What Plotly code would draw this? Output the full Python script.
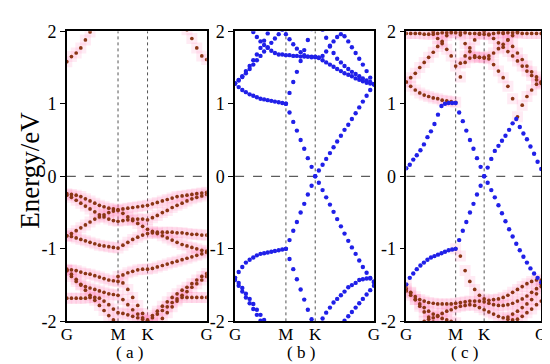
import plotly.graph_objects as go

N = None

# ---------------- k-path sample points (fraction of G-M-K-G path) ----------------
K_FINE = [0.000, 0.026, 0.052, 0.078, 0.105, 0.131, 0.157, 0.183, 0.209, 0.235,
          0.261, 0.287, 0.314, 0.340, 0.366, 0.392, 0.419, 0.445, 0.472, 0.498,
          0.524, 0.551, 0.577, 0.603, 0.630, 0.656, 0.683, 0.709, 0.735, 0.762,
          0.788, 0.815, 0.841, 0.868, 0.894, 0.920, 0.947, 0.973, 1.000]
K_COARSE = [0.000, 0.033, 0.067, 0.100, 0.133, 0.166, 0.200, 0.233, 0.266, 0.300,
            0.333, 0.366, 0.401, 0.436, 0.471, 0.507, 0.542, 0.577, 0.612, 0.647,
            0.683, 0.718, 0.753, 0.788, 0.824, 0.859, 0.894, 0.929, 0.965, 1.000]
K_TICKS = [0.0, 0.366, 0.577, 1.0]
K_LABELS = ["G", "M", "K", "G"]
E_TICKS = [-2, -1, 0, 1, 2]
E_LABELS = ["-2", "-1", "0", "1", "2"]
CAPTIONS = ["( a )", "( b )", "( c )"]
Y_TITLE = "Energy/eV"

# ---------------- panel (a): red bands, coarse grid ----------------
A_TOP_L = [1.58, 1.65, 1.70, 1.77, 1.88, 1.99, 2.10] + [N] * 23
A_TOP_R = [N] * 24 + [2.12, 2.02, 1.90, 1.77, 1.66, 1.61]
A_V1 = [-0.24, -0.25, -0.26, -0.28, -0.31, -0.34, -0.37, -0.40, -0.42, -0.44, -0.45, -0.46,
        -0.45, -0.44, -0.43, -0.42, -0.41, -0.40,
        -0.38, -0.36, -0.34, -0.32, -0.30, -0.28, -0.27, -0.26, -0.25, -0.24, -0.23, -0.22]
A_V2 = [-0.26, -0.29, -0.33, -0.37, -0.41, -0.45, -0.49, -0.53, -0.56, -0.59, -0.61, -0.62,
        -0.61, -0.60, -0.59, -0.59, -0.59, -0.60,
        -0.57, -0.54, -0.50, -0.47, -0.43, -0.40, -0.37, -0.34, -0.31, -0.29, -0.27, -0.25]
A_V3 = [-0.82, -0.79, -0.75, -0.71, -0.67, -0.63, -0.59, -0.56, -0.53, -0.50, -0.48, -0.47,
        -0.51, -0.56, -0.61, -0.65, -0.69, -0.73,
        -0.76, -0.79, -0.82, -0.85, -0.88, -0.91, -0.94, -0.96, -0.98, -1.00, -1.02, -1.03]
A_V4 = [-0.82, -0.83, -0.85, -0.87, -0.89, -0.91, -0.93, -0.95, -0.96, -0.97, -0.98, -0.99,
        -0.95, -0.91, -0.87, -0.84, -0.81, -0.79,
        -0.78, -0.77, -0.77, -0.77, -0.77, -0.78, -0.78, -0.79, -0.80, -0.80, -0.81, -0.81]
A_V5 = [-1.28, -1.29, -1.30, -1.32, -1.34, -1.35, -1.37, -1.39, -1.41, -1.43, -1.44, -1.45,
        -1.47, -1.56, -1.67, -1.78, -1.89, -1.98,
        -1.92, -1.86, -1.79, -1.73, -1.67, -1.62, -1.57, -1.53, -1.48, -1.43, -1.38, -1.34]
A_V6 = [-1.30, -1.35, -1.42, -1.49, -1.57, -1.64, -1.71, -1.78, -1.85, -1.92, -1.98, -2.04] + [N] * 18
A_V7 = [-1.68, -1.68, -1.68, -1.68, -1.68, -1.67, -1.67, -1.68, -1.72, -1.77, -1.83, -1.88,
        -1.89, -1.91, -1.93, -1.95, -1.97, -1.99,
        -1.95, -1.90, -1.85, -1.80, -1.74, -1.69, -1.67, -1.67, -1.67, -1.67, -1.67, -1.67]
A_V8 = [-1.30, -1.38, -1.45, -1.50, -1.52, -1.54, -1.56, -1.58, -1.60, -1.62, -1.63, -1.64,
        -1.70, -1.77, -1.84, -1.90, -1.95, -1.99,
        -2.03, -2.02, -1.96, -1.88, -1.80, -1.72, -1.64, -1.59, -1.53, -1.48, -1.43, -1.38]
A_V10 = [N] * 11 + [-1.38, -1.36, -1.33, -1.31, -1.29, -1.28, -1.28,
                    -1.27, -1.25, -1.23, -1.21, -1.19, -1.17, -1.15, -1.13, -1.11, -1.09, -1.07, -1.05]

# ---------------- panel (b): blue bands, fine grid ----------------
B1 = [1.28, 1.23, 1.19, 1.16, 1.13, 1.11, 1.09, 1.07, 1.06, 1.05, 1.04, 1.03, 1.02, 1.01, 1.00,
      0.88, 0.75, 0.63, 0.50, 0.38, 0.25, 0.13, 0.00,
      0.08, 0.16, 0.24, 0.32, 0.40, 0.48, 0.56, 0.64, 0.71, 0.79, 0.87, 0.95, 1.03, 1.11, 1.19, 1.27]
B2 = [-1.40, -1.32, -1.25, -1.19, -1.15, -1.12, -1.09, -1.07, -1.06, -1.05, -1.04, -1.03, -1.02, -1.01, -1.00,
      -0.88, -0.75, -0.63, -0.50, -0.38, -0.25, -0.13, 0.00,
      -0.09, -0.19, -0.29, -0.39, -0.49, -0.59, -0.69, -0.79, -0.89, -0.98, -1.07, -1.16, -1.25, -1.33, -1.40, -1.46]
B3 = [N] * 14 + [-1.00, -1.14, -1.28, -1.42, -1.56, -1.70, -1.84, -1.97, -2.10] + [N] * 16
B4 = [N] * 14 + [1.00, 1.15, 1.30, 1.44, 1.59, 1.74, 1.88, 2.03] + [N] * 17
B5 = [-1.40, -1.47, -1.54, -1.62, -1.69, -1.76, -1.84, -1.91, -1.98, -2.05] + [N] * 29
B6 = [-1.43, -1.51, -1.59, -1.67, -1.75, -1.83, -1.91, -1.99, -2.07] + [N] * 30
B7 = [N] * 23 + [-2.04, -1.96, -1.88, -1.81, -1.74, -1.69, -1.64, -1.59, -1.53, -1.50,
                 -1.47, -1.43, -1.42, -1.41, -1.41, -1.45]
B8 = [N] * 30 + [-1.99, -1.93, -1.87, -1.81, -1.75, -1.69, -1.63, -1.57, -1.51]
B9 = [1.28, 1.33, 1.38, 1.45, 1.52, 1.60, 1.68, 1.77, 1.87, 1.97, 2.07] + [N] * 28
B10 = [1.28, 1.32, 1.37, 1.42, 1.48, 1.54, 1.60, 1.66, 1.72, 1.78, 1.84, 1.90, 1.96, 2.02] + [N] * 25
B11 = [N] * 5 + [1.99, 1.92, 1.86, 1.81, 1.77, 1.73, 1.70, 1.68, 1.68,
                 1.67, 1.67, 1.66, 1.66, 1.65, 1.65, 1.65, 1.65, 1.65,
                 1.63, 1.60, 1.57, 1.54, 1.51, 1.48, 1.45, 1.42, 1.40, 1.38, 1.35, 1.33, 1.31, 1.29, 1.28, 1.27]
B12 = [N] * 13 + [2.05, 1.96, 1.89, 1.82, 1.76, 1.71, 1.67, 1.65, 1.64, 1.64,
                  1.64, 1.66, 1.72, 1.79, 1.86, 1.92, 1.96, 1.93, 1.86, 1.78, 1.70, 1.62, 1.54, 1.45, 1.36, 1.27]
B13 = [N] * 24 + [2.02, 1.91, 1.80, 1.70, 1.62, 1.57, 1.52, 1.48, 1.44, 1.41, 1.38, 1.35, 1.32, 1.30, 1.27]

# ---------------- panel (c): blue bands (fine grid) ----------------
C_B1 = [0.11, 0.16, 0.23, 0.29, 0.36, 0.44, 0.54, 0.62, 0.72, 0.85, 0.97, 1.00, 1.01, 1.01, 1.01,
        0.88, 0.76, 0.63, 0.50, 0.38, 0.25, 0.13, 0.00,
        0.12, 0.24, 0.35, 0.42, 0.49, 0.56, 0.64, 0.73, 0.79, 0.68, 0.59, 0.51, 0.41, 0.31, 0.20, 0.10]
C_B2 = [-1.49, -1.40, -1.34, -1.28, -1.23, -1.19, -1.15, -1.12, -1.10, -1.08, -1.06, -1.04, -1.02, -1.01, -1.00,
        -0.88, -0.75, -0.63, -0.50, -0.38, -0.25, -0.13, 0.00,
        -0.09, -0.19, -0.29, -0.40, -0.51, -0.62, -0.73, -0.83, -0.93, -1.02, -1.11, -1.19, -1.27, -1.34, -1.40, -1.46]

# ---------------- panel (c): red bands (coarse grid) ----------------
C_R1 = [1.97, 1.97, 1.97, 1.97, 1.96, 1.96, 1.96, 1.97, 1.98, 1.98, 1.98, 1.98, 1.98, 1.98, 1.97,
        1.97, 1.96, 1.96, 1.96, 1.97, 1.98, 1.98, 1.98, 1.98, 1.98, 1.97, 1.97, 1.97, 1.97, 1.97]
C_R2 = [1.30, 1.24, 1.19, 1.15, 1.12, 1.10, 1.08, 1.07, 1.05, 1.04, 1.03, 1.02,
        1.37, 1.57, 1.63, 1.64, 1.64, 1.63,
        1.62, 1.54, 1.45, 1.36, 1.24, 1.07, 0.82, 0.98, 1.10, 1.19, 1.27, 1.30]
C_R3 = [1.30, 1.36, 1.42, 1.50, 1.57, 1.64, 1.71, 1.79, 1.86, 1.94, 2.01] + [N] * 19
C_R4 = [N] * 6 + [1.99, 1.90, 1.83, 1.75, 1.66, 1.52, 1.56, 1.66, 1.77, 1.88, 1.97] + [N] * 13
C_R5 = [N] * 12 + [1.95, 1.83, 1.72, 1.66, 1.64, 1.64, 1.66, 1.70, 1.76, 1.82, 1.88, 1.94, 1.99] + [N] * 5
C_R6 = [N] * 21 + [1.97, 1.88, 1.79, 1.70, 1.61, 1.52, 1.44, 1.37, 1.30]
C_R7 = [N] * 17 + [2.00, 1.95, 1.90, 1.84, 1.78, 1.72, 1.66, 1.59, 1.52, 1.45, 1.39, 1.33, 1.28]
C_S1 = [N] * 11 + [-1.00, -1.10, -1.30, -1.45, -1.56, -1.64, -1.69,
                   -1.71, -1.70, -1.69, -1.67, -1.64, -1.60, -1.56, -1.52, -1.48, -1.45, -1.43, -1.43]
C_S2 = [-1.55, -1.61, -1.66, -1.70, -1.72, -1.74, -1.75, -1.76, -1.76, -1.76, -1.76, -1.75,
        -1.74, -1.73, -1.72, -1.72, -1.72, -1.73,
        -1.75, -1.77, -1.78, -1.78, -1.77, -1.75, -1.72, -1.69, -1.65, -1.60, -1.55, -1.49]
C_S3 = [-1.58, -1.64, -1.70, -1.76, -1.81, -1.86, -1.90, -1.93, -1.96, -1.98, -2.00, -2.02] + [N] * 18
C_S4 = [-1.50, -1.60, -1.70, -1.79, -1.87, -1.94, -2.01] + [N] * 23
C_S5 = [N] * 4 + [-2.00, -1.97, -1.95, -1.92, -1.89, -1.86, -1.84, -1.81,
                  -1.79, -1.78, -1.77, -1.78, -1.81, -1.84,
                  -1.87, -1.90, -1.93, -1.95, -1.97, -1.98] + [N] * 6
C_S6 = [N] * 22 + [-1.94, -1.90, -1.86, -1.81, -1.76, -1.70, -1.62, -1.52]
C_S7 = [N] * 24 + [-1.97, -1.93, -1.88, -1.83, -1.77, -1.72]

PANEL_A_RED = [A_TOP_L, A_TOP_R, A_V1, A_V2, A_V3, A_V4, A_V5, A_V6, A_V7, A_V8, A_V10]
PANEL_B_BLUE = [B1, B2, B3, B4, B5, B6, B7, B8, B9, B10, B11, B12, B13]
PANEL_C_BLUE = [C_B1, C_B2]
PANEL_C_RED = [C_R1, C_R2, C_R3, C_R4, C_R5, C_R6, C_R7,
               C_S1, C_S2, C_S3, C_S4, C_S5, C_S6, C_S7]

# ---------------- styling ----------------
RED = "#8a3514"
BLUE = "#2020e8"
HALO = "rgba(255,110,180,0.14)"
FONT = "Liberation Serif, Times New Roman, serif"
W, H = 550, 364
X_DOM = [(54 / W, 197 / W), (226 / W, 368 / W), (401 / W, 539 / W)]
Y_DOM = (1 - 321 / H, 1 - 14 / H)

fig = go.Figure()


def axes(p):
    return ("x" if p == 1 else f"x{p}"), ("y" if p == 1 else f"y{p}")


def pts(kgrid, vals):
    xs = [k for k, v in zip(kgrid, vals) if v is not None]
    ys = [v for v in vals if v is not None]
    return xs, ys


groups = [
    (1, K_COARSE, PANEL_A_RED, RED, 3.7, True),
    (2, K_FINE, PANEL_B_BLUE, BLUE, 4.4, False),
    (3, K_COARSE, PANEL_C_RED, RED, 3.7, True),
    (3, K_FINE, PANEL_C_BLUE, BLUE, 4.4, False),
]

# halos first
for p, kg, bands, col, sz, halo in groups:
    if not halo:
        continue
    xa, ya = axes(p)
    for b in bands:
        xs, ys = pts(kg, b)
        fig.add_trace(go.Scatter(x=xs, y=ys, mode="markers", xaxis=xa, yaxis=ya,
                                 marker=dict(size=11, color=HALO, symbol="square"),
                                 hoverinfo="skip", showlegend=False))
for p, kg, bands, col, sz, halo in groups:
    xa, ya = axes(p)
    for b in bands:
        xs, ys = pts(kg, b)
        fig.add_trace(go.Scatter(x=xs, y=ys, mode="markers", xaxis=xa, yaxis=ya,
                                 marker=dict(size=sz, color=col, line=dict(width=0)),
                                 showlegend=False))

layout = dict(width=W, height=H, margin=dict(l=0, r=0, t=0, b=0),
              paper_bgcolor="white", plot_bgcolor="white", showlegend=False)
shapes = []
annotations = []
for p in (1, 2, 3):
    xk = "xaxis" if p == 1 else f"xaxis{p}"
    yk = "yaxis" if p == 1 else f"yaxis{p}"
    xa, ya = axes(p)
    layout[xk] = dict(domain=list(X_DOM[p - 1]), anchor=ya, range=[0, 1],
                      tickmode="array", tickvals=K_TICKS, ticktext=K_LABELS, ticks="",
                      ticklabelstandoff=-4,
                      showline=True, mirror=True, linecolor="black", linewidth=1.5,
                      showgrid=False, zeroline=False,
                      tickfont=dict(family=FONT, size=17, color="black"))
    layout[yk] = dict(domain=list(Y_DOM), anchor=xa, range=[-2, 2],
                      tickmode="array", tickvals=E_TICKS, ticktext=E_LABELS,
                      ticks="outside", ticklen=5, tickwidth=1.2, tickcolor="black",
                      showline=True, mirror=True, linecolor="black", linewidth=1.5,
                      showgrid=False, zeroline=False,
                      tickfont=dict(family=FONT, size=18, color="black"))
    for kv in K_TICKS[1:3]:
        shapes.append(dict(type="line", xref=xa, yref=ya, x0=kv, x1=kv, y0=-2, y1=2,
                           line=dict(color="#555555", width=1, dash="dot"), layer="below"))
    shapes.append(dict(type="line", xref=xa, yref=ya, x0=0, x1=1, y0=0, y1=0,
                       line=dict(color="#333333", width=1, dash="dash"), layer="below"))

cap_x = [118, 293, 461]
for i, c in enumerate(CAPTIONS):
    annotations.append(dict(text=c, x=cap_x[i] / W, y=1 - 354 / H, xref="paper", yref="paper",
                            showarrow=False, xanchor="center", yanchor="middle",
                            font=dict(family=FONT, size=17, color="black")))
annotations.append(dict(text=Y_TITLE, x=17 / W, y=1 - 161 / H, xref="paper", yref="paper",
                        showarrow=False, textangle=-90, xanchor="center", yanchor="middle",
                        font=dict(family=FONT, size=27, color="black")))
layout["shapes"] = shapes
layout["annotations"] = annotations
fig.update_layout(**layout)
fig.write_html("out.html")
